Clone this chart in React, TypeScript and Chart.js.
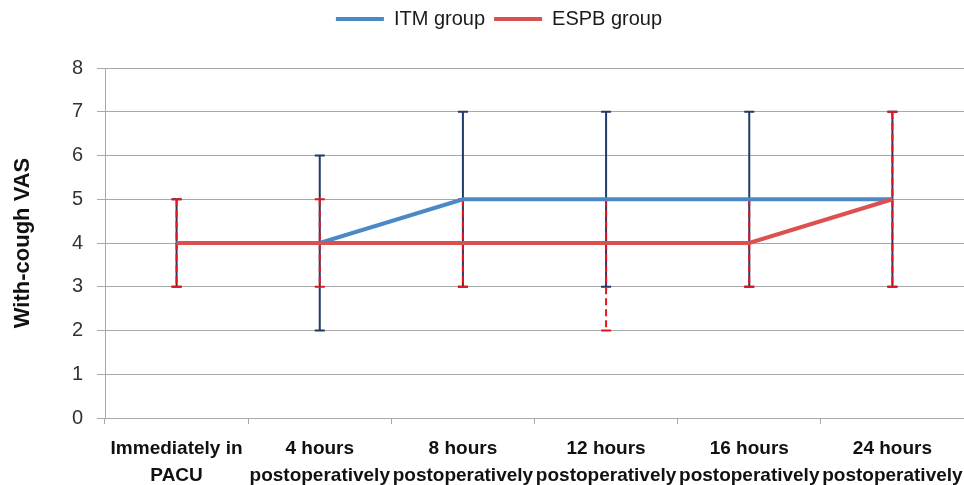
import React, { useEffect, useRef } from "react";
import { Chart, registerables } from "chart.js";

Chart.register(...registerables);

const categories: string[][] = [
  ["Immediately in", "PACU"],
  ["4 hours", "postoperatively"],
  ["8 hours", "postoperatively"],
  ["12 hours", "postoperatively"],
  ["16 hours", "postoperatively"],
  ["24 hours", "postoperatively"],
];

const itmMean = [4, 4, 5, 5, 5, 5];
const itmLow = [3, 2, 3, 3, 3, 3];
const itmHigh = [5, 6, 7, 7, 7, 7];

const espbMean = [4, 4, 4, 4, 4, 5];
const espbLow = [3, 3, 3, 2, 3, 3];
const espbHigh = [5, 5, 5, 5, 5, 7];

const yMin = 0;
const yMax = 8;
const yStep = 1;

const FONT = "'Liberation Sans', Arial, sans-serif";

const errorBarPlugin = {
  id: "errorBars",
  beforeDatasetsDraw(chart: any) {
    const ctx = chart.ctx;
    const yScale = chart.scales.y;
    chart.data.datasets.forEach((ds: any, i: number) => {
      const meta = chart.getDatasetMeta(i);
      if (!ds.errLow || meta.hidden) return;
      ctx.save();
      ctx.strokeStyle = ds.errColor;
      ctx.lineWidth = 2;
      meta.data.forEach((pt: any, j: number) => {
        const x = pt.x;
        const yl = yScale.getPixelForValue(ds.errLow[j]);
        const yh = yScale.getPixelForValue(ds.errHigh[j]);
        ctx.setLineDash(ds.errDash || []);
        ctx.beginPath();
        ctx.moveTo(x, yh);
        ctx.lineTo(x, yl);
        ctx.stroke();
        ctx.setLineDash([]);
        ctx.beginPath();
        ctx.moveTo(x - 5, yh);
        ctx.lineTo(x + 5, yh);
        ctx.moveTo(x - 5, yl);
        ctx.lineTo(x + 5, yl);
        ctx.stroke();
      });
      ctx.restore();
    });
  },
};

const layoutPlugin = {
  id: "layoutTweaks",
  beforeLayout(chart: any) {
    const lg = chart.legend;
    if (lg && !lg.__patched) {
      const orig = lg.fit;
      lg.fit = function () {
        orig.call(this);
        this.height = 68;
      };
      lg.__patched = true;
    }
  },
  afterLayout(chart: any) {
    if (chart.legend) {
      chart.legend.left += 34;
    }
  },
};

export default function App() {
  const ref = useRef<HTMLCanvasElement | null>(null);

  useEffect(() => {
    document.body.style.margin = "0";
    const canvas = ref.current;
    if (!canvas) return;
    const chart = new Chart(canvas, {
      type: "line",
      data: {
        labels: categories,
        datasets: [
          {
            label: "ITM group",
            data: itmMean,
            borderColor: "#4a88c6",
            backgroundColor: "#4a88c6",
            borderWidth: 4,
            pointRadius: 0,
            tension: 0,
            order: 1,
            errLow: itmLow,
            errHigh: itmHigh,
            errColor: "#1f3a68",
            errDash: [],
          } as any,
          {
            label: "ESPB group",
            data: espbMean,
            borderColor: "#dc5050",
            backgroundColor: "#dc5050",
            borderWidth: 4,
            pointRadius: 0,
            tension: 0,
            order: 0,
            errLow: espbLow,
            errHigh: espbHigh,
            errColor: "#e3141c",
            errDash: [7, 4],
          } as any,
        ],
      },
      options: {
        responsive: false,
        animation: false,
        layout: { padding: 0 },
        plugins: {
          tooltip: { enabled: false },
          legend: {
            position: "top",
            labels: {
              font: { family: FONT, size: 20 },
              color: "#1a1a1a",
              boxWidth: 48,
              boxHeight: 4,
              padding: 9,
              sort: (a: any, b: any) => a.datasetIndex - b.datasetIndex,
              generateLabels(chart: any) {
                const items = (Chart as any).defaults.plugins.legend.labels.generateLabels(chart);
                return items.map((it: any) => ({
                  ...it,
                  fillStyle: it.strokeStyle,
                  lineWidth: 0,
                }));
              },
            },
          },
        },
        scales: {
          x: {
            type: "category",
            offset: true,
            grid: {
              offset: true,
              drawOnChartArea: false,
              drawTicks: true,
              tickLength: 6,
              color: "#a8a8a8",
            },
            border: { color: "#a8a8a8", width: 1 },
            ticks: {
              font: { family: FONT, size: 19, weight: "bold", lineHeight: 1.42 },
              color: "#111111",
              maxRotation: 0,
              minRotation: 0,
              autoSkip: false,
              padding: 11,
            },
            afterFit(scale: any) {
              scale.height = 67;
              scale.paddingRight = 0;
              scale.paddingLeft = 0;
            },
          },
          y: {
            min: yMin,
            max: yMax,
            ticks: {
              stepSize: yStep,
              font: { family: FONT, size: 20 },
              color: "#333333",
              padding: 14,
            },
            grid: {
              color: "#a8a8a8",
              tickLength: 8,
              lineWidth: 1,
            },
            border: { color: "#a8a8a8", width: 1 },
            title: {
              display: true,
              text: "With-cough VAS",
              font: { family: FONT, size: 22, weight: "bold" },
              color: "#111111",
              padding: { top: 10, bottom: 0 },
            },
            afterFit(scale: any) {
              scale.width = 105;
            },
          },
        },
      },
      plugins: [errorBarPlugin, layoutPlugin],
    });
    return () => chart.destroy();
  }, []);

  return (
    <div style={{ width: 964, height: 485 }}>
      <canvas ref={ref} width={964} height={485} style={{ display: "block" }} />
    </div>
  );
}
